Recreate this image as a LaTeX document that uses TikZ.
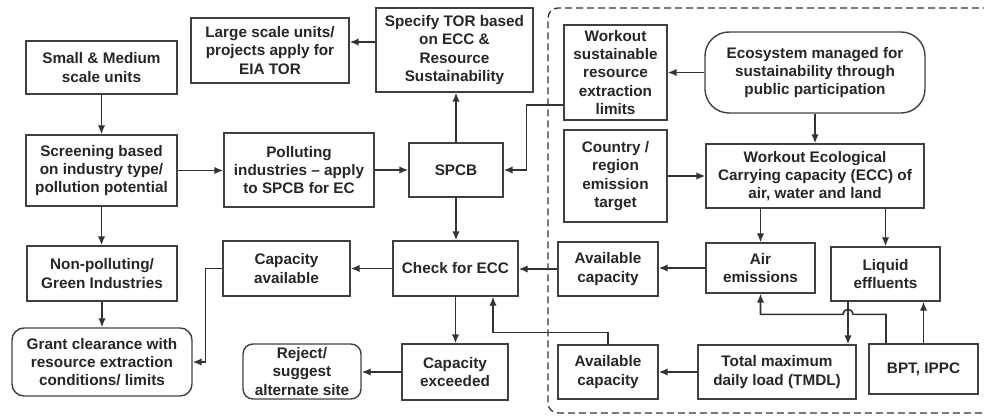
\documentclass[tikz,border=0pt]{standalone}
\usepackage{fontspec}
\setmainfont{Liberation Sans}
\usetikzlibrary{arrows.meta}
\tikzset{
	box/.style={draw=black!75,line width=1.4pt,align=center,inner sep=1pt,
		font=\fontsize{15.3}{18.3}\selectfont\bfseries,text=black!85},
	rbox/.style={box,rounded corners=12pt},
	sz/.style 2 args={minimum width=#1pt,minimum height=#2pt}
}

\begin{document}
\begin{tikzpicture}[x=1pt,y=-1pt,->,>={Latex[length=9pt,width=7.5pt]},line width=1.6pt,color=black!80]
\useasboundingbox (0,0) rectangle (984,417);
% left column
\node [box,sz={151}{53}] (small) at (101.5,67.5) {Small \& Medium\\scale units};
\node [box,sz={151}{71}] (scr) at (101.5,170.5) {Screening based\\on industry type/\\pollution potential};
\node [box,sz={150}{55}] (nonp) at (102,273.5) {Non-polluting/\\Green Industries};
\node [rbox,sz={180}{68}] (grant) at (102,362) {Grant clearance with\\resource extraction\\conditions/ limits};
% middle
\node [box,sz={158}{65}] (large) at (270,50.5) {Large scale units/\\projects apply for\\EIA TOR};
\node [box,sz={150}{74}] (poll) at (299,170) {Polluting\\industries -- apply\\to SPCB for EC};
\node [box,sz={127}{55}] (capav) at (286.5,268.5) {Capacity\\available};
\node [rbox,rounded corners=10pt,sz={118}{55}] (reject) at (302,371.5) {Reject/\\suggest\\alternate site};
\node [box,sz={157}{84}] (tor) at (454.5,50) {Specify TOR based\\on ECC \&\\Resource\\Sustainability};
\node [box,sz={94}{54}] (spcb) at (456,170) {SPCB};
\node [box,sz={125}{55}] (check) at (455.5,268.5) {Check for ECC};
\node [box,sz={106}{56}] (capex) at (455,372) {Capacity\\exceeded};
% ecosystem side
\node [box,sz={103}{95}] (wsus) at (615.5,72.5) {Workout\\sustainable\\resource\\extraction\\limits};
\node [rbox,rounded corners=24pt,sz={220}{81}] (eco) at (815,72.5) {Ecosystem managed for\\sustainability through\\public participation};
\node [box,sz={103}{92}] (country) at (615.5,176) {Country /\\region\\emission\\target};
\node [box,sz={218}{64}] (wecc) at (815,176) {Workout Ecological\\Carrying capacity (ECC) of\\air, water and land};
\node [box,sz={100}{54}] (avail1) at (608,269) {Available\\capacity};
\node [box,sz={109}{50}] (air) at (760.5,268) {Air\\emissions};
\node [box,sz={109}{54}] (liq) at (885.5,274) {Liquid\\effluents};
\node [box,sz={100}{54}] (avail2) at (608,372) {Available\\capacity};
\node [box,sz={158}{54}] (tmdl) at (777,372) {Total maximum\\daily load (TMDL)};
\node [box,sz={109}{50}] (bpt) at (923.5,369) {BPT, IPPC};

\draw [-,line width=1.3pt,dash pattern=on 7pt off 4pt,rounded corners=10pt] (990,8) -- (548,8) -- (548,413) -- (990,413);

\draw (small.south) -- (small.south |- scr.north);
\draw (scr.east) -- (scr.east -| poll.west);
\draw (poll.east) -- (poll.east -| spcb.west);
\draw (spcb.north) -- (spcb.north |- tor.south);
\draw ([yshift=8pt]tor.west) -- ([yshift=8pt]tor.west -| large.east);
\draw (scr.south) -- (scr.south |- nonp.north);
\draw (nonp.south) -- (nonp.south |- grant.north);
\draw (spcb.south) -- (spcb.south |- check.north);
\draw (check.west) -- (check.west -| capav.east);
\draw (capav.west) -- ++(-17,0) |- (grant.east);
\draw (check.south) -- (check.south |- capex.north);
\draw (capex.west) -- (capex.west -| reject.east);
\draw ([yshift=-32.5pt]wsus.west) -- ++(-37,0) |- (spcb.east);
\draw (eco.west) -- (wsus.east);
\draw (eco.south) -- (wecc.north);
\draw (country.east) -- (wecc.west);
\draw (wecc.south -| air.north) -- (air.north);
\draw (wecc.south -| liq.north) -- (liq.north);
\draw (air.west) -- (air.west -| avail1.east);
\draw (avail1.west) -- (avail1.west -| check.east);
\draw ([xshift=-37.5pt]liq.south) -- ([xshift=-37.5pt]liq.south |- tmdl.north);
\draw ([xshift=-37.5pt]bpt.north) -- ++(0,-29) -- ++(-33,0) arc[start angle=0,end angle=180,radius=5pt] -| (air.south);
\draw (bpt.north) -- (bpt.north |- liq.south);
\draw (tmdl.west) -- (tmdl.west -| avail2.east);
\draw (avail2.north) -- ++(0,-12) -| ([xshift=37.5pt]check.south);
\end{tikzpicture}
\end{document}
